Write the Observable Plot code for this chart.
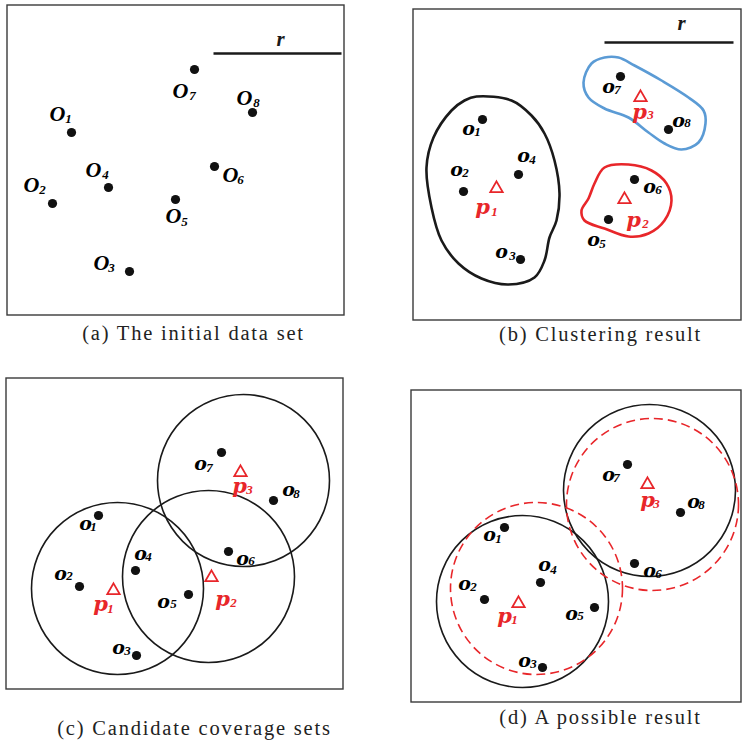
<!DOCTYPE html>
<html>
<head>
<meta charset="utf-8">
<script src="https://cdn.jsdelivr.net/npm/d3@7"></script>
<script src="https://cdn.jsdelivr.net/npm/@observablehq/plot@0.6"></script>
<style>
  html, body { margin: 0; padding: 0; background: #fff; }
  #chart { width: 742px; height: 742px; }
</style>
</head>
<body>
<div id="chart"></div>
<script>
// Panel frames [x1, y1, x2, y2]
const frames = [
  [7, 5, 344, 315],
  [413, 9, 741, 320],
  [6, 378, 343, 689],
  [411, 390, 741, 702]
];
// Captions [text, x, y]
const captions = [
  ["(a) The initial data set", 193, 333],
  ["(b) Clustering result", 600, 334],
  ["(c) Candidate coverage sets", 194, 728],
  ["(d) A possible result", 600, 717]
];
// Scale bar "r" [x1, x2, y, labelX, labelY]
const rBars = [
  [213, 341, 53, 280, 39],
  [604, 733, 42, 681, 23]
];
// Objects (dots): [panel, name, x, y]
const objects = [
  ["a","o1",71,132],["a","o2",52,203],["a","o3",129,271],["a","o4",108,187],
  ["a","o5",175,199],["a","o6",214,166],["a","o7",194,69],["a","o8",252,112],
  ["b","o1",482,119],["b","o2",463,191],["b","o3",520,259],["b","o4",518,174],
  ["b","o5",608,219],["b","o6",634,179],["b","o7",620,76],["b","o8",668,129],
  ["c","o1",98,515],["c","o2",79,586],["c","o3",136,655],["c","o4",135,570],
  ["c","o5",188,594],["c","o6",228,551],["c","o7",221,452],["c","o8",273,500],
  ["d","o1",504,527],["d","o2",484,599],["d","o3",542,667],["d","o4",540,582],
  ["d","o5",594,607],["d","o6",634,563],["d","o7",627,464],["d","o8",680,512]
];
// Representatives (triangles): [panel, name, x, y]
const reps = [
  ["b","p1",496,188],["b","p2",624,199],["b","p3",640,97],
  ["c","p1",113,590],["c","p2",211,577],["c","p3",240,472],
  ["d","p1",518,603],["d","p3",647,484]
];
// Labels: [letter, subscript, letterX, letterY, subX, subY, color]
const labels = [
  // panel a (capital O)
  ["O","1",57,113,68,118,"black"],["O","2",31,184,42,189,"black"],
  ["O","3",101,262,111,267,"black"],["O","4",93,169,105,174,"black"],
  ["O","5",173,215,184,221,"black"],["O","6",230,174,240,179,"black"],
  ["O","7",180,90,192,95,"black"],["O","8",244,97,256,102,"black"],
  // panel b
  ["o","1",468,128,477,131,"black"],["o","2",456,169,465,172,"black"],
  ["o","3",501,251,512,255,"black"],["o","4",523,155,532,159,"black"],
  ["o","5",593,239,602,243,"black"],["o","6",649,186,658,189,"black"],
  ["o","7",608,86,617,89,"black"],["o","8",678,120,687,122,"black"],
  ["p","1",482,207,494,211,"#e8262a"],["p","2",633,220,645,223,"#e8262a"],
  ["p","3",639,112,650,114,"#e8262a"],
  // panel c
  ["o","1",85,523,93,526,"black"],["o","2",60,573,69,575,"black"],
  ["o","3",118,647,127,650,"black"],["o","4",140,553,148,556,"black"],
  ["o","5",163,601,173,603,"black"],["o","6",242,558,251,560,"black"],
  ["o","7",200,463,209,467,"black"],["o","8",288,489,296,493,"black"],
  ["p","1",100,604,110,608,"#e8262a"],["p","2",222,599,233,602,"#e8262a"],
  ["p","3",239,486,249,489,"#e8262a"],
  // panel d
  ["o","1",489,534,498,538,"black"],["o","2",464,583,473,586,"black"],
  ["o","3",524,660,533,663,"black"],["o","4",544,564,553,569,"black"],
  ["o","5",571,613,580,615,"black"],["o","6",649,570,658,573,"black"],
  ["o","7",608,474,616,477,"black"],["o","8",693,501,701,504,"black"],
  ["p","1",504,616,514,619,"#e8262a"],["p","3",647,500,656,503,"#e8262a"]
];
// Coverage circles: [x, y, radius, color, dashed]
const circles = [
  [117,588,86,"black",false],[208,576,86,"black",false],[243,480,86,"black",false],
  [522,601,86,"black",false],[649,490,86,"black",false],
  [536,588,86,"#e8262a",true],[652,504,86,"#e8262a",true]
];
// Cluster outlines (panel b): [x, y]
const blobBlack = [[476,96],[511,100],[531,115],[544,133],[554,160],[559,193],[556,220],[549,237],[544,260],[534,277],[508,284],[481,278],[458,263],[441,240],[431,207],[426,167],[433,137],[451,110],[464,100]];
const blobBlue = [[618,57],[634,65],[661,80],[688,97],[703,110],[705,123],[698,142],[681,149],[664,143],[648,132],[628,117],[604,108],[588,97],[583,82],[591,63],[604,57]];
const blobRed = [[604,167],[628,164],[651,170],[666,183],[671,200],[664,220],[648,233],[628,236],[604,228],[584,220],[581,210],[588,198],[594,183]];

const blobs = [
  ...blobBlack.map(([x,y]) => ({id:"black", color:"#1a1a1a", x, y})),
  ...blobBlue.map(([x,y]) => ({id:"blue", color:"#5b9bd5", x, y})),
  ...blobRed.map(([x,y]) => ({id:"red", color:"#e8262a", x, y}))
];

const serif = "Liberation Serif, Times New Roman, serif";
const wideSerif = "DejaVu Serif, serif";
const solidCircles = circles.filter(c => !c[4]);
const dashedCircles = circles.filter(c => c[4]);
const capLabels = labels.filter(l => l[0] === "O");
const oLabels = labels.filter(l => l[0] === "o");
const pLabels = labels.filter(l => l[0] === "p");

const chart = Plot.plot({
  width: 742,
  height: 742,
  margin: 0,
  x: {domain: [0, 742], range: [0, 742], axis: null},
  y: {domain: [0, 742], range: [0, 742], axis: null},
  r: {type: "identity"},
  color: {type: "identity"},
  marks: [
    Plot.rect(frames, {x1: d => d[0], y1: d => d[1], x2: d => d[2], y2: d => d[3], fill: "none", stroke: "#3a3a3a", strokeWidth: 1.4}),
    Plot.link(rBars, {x1: d => d[0], x2: d => d[1], y1: d => d[2], y2: d => d[2], stroke: "#1a1a1a", strokeWidth: 2.6}),
    Plot.text(rBars, {x: d => d[3], y: d => d[4], text: () => "r", fontFamily: serif, fontStyle: "italic", fontWeight: "bold", fontSize: 21, fill: "#1a1a1a"}),
    Plot.line(blobs, {x: "x", y: "y", z: "id", stroke: "color", strokeWidth: 2.6, curve: "catmull-rom-closed", fill: "none"}),
    Plot.dot(solidCircles, {x: d => d[0], y: d => d[1], r: d => d[2], stroke: "#1a1a1a", strokeWidth: 1.6, fill: "none"}),
    Plot.dot(dashedCircles, {x: d => d[0], y: d => d[1], r: d => d[2], stroke: "#e8262a", strokeWidth: 1.6, strokeDasharray: "9,5", fill: "none"}),
    Plot.dot(objects, {x: d => d[2], y: d => d[3], r: 4.6, fill: "#111", stroke: "none"}),
    Plot.dot(reps, {x: d => d[2], y: d => d[3], symbol: "triangle", r: 4.6, fill: "white", stroke: "#e8262a", strokeWidth: 1.8}),
    Plot.text(capLabels, {x: d => d[2], y: d => d[3], text: d => d[0], fill: d => d[6], fontFamily: serif, fontStyle: "italic", fontWeight: "bold", fontSize: 22}),
    Plot.text(oLabels, {x: d => d[2], y: d => d[3], text: d => d[0], fill: d => d[6], fontFamily: wideSerif, fontStyle: "italic", fontWeight: "bold", fontSize: 19}),
    Plot.text(pLabels, {x: d => d[2], y: d => d[3], text: d => d[0], fill: d => d[6], fontFamily: wideSerif, fontStyle: "italic", fontWeight: "bold", fontSize: 21}),
    Plot.text(labels, {x: d => d[4], y: d => d[5], text: d => d[1], fill: d => d[6], fontFamily: serif, fontStyle: "italic", fontWeight: "bold", fontSize: 13}),
    Plot.text(captions, {x: d => d[1], y: d => d[2], text: d => d[0], fontFamily: serif, fontSize: 20.5, fill: "#222"})
  ]
});
// Widen caption lettering (the captions are the last text mark)
const textGroups = d3.select(chart).selectAll('g[aria-label="text"]').nodes();
d3.select(textGroups[textGroups.length - 1]).attr("letter-spacing", "1.8px").style("letter-spacing", "1.8px");
document.getElementById("chart").appendChild(chart);
</script>
</body>
</html>
